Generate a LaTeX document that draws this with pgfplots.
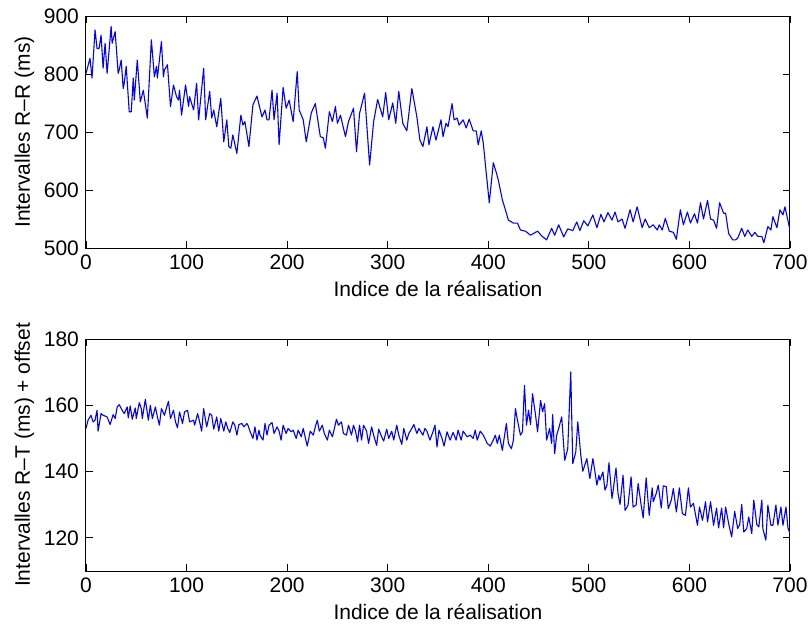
\documentclass[border=0pt]{standalone}
\usepackage{fontspec}
\setmainfont{Liberation Sans}
\usepackage{pgfplots}
\pgfplotsset{compat=1.18}

\pgfplotsset{
  matlab/.style={
    scale only axis,
    width=352pt, height=116pt,
    xmin=0, xmax=700,
    xtick={0,100,...,700},
    tick align=inside,
    tick pos=both,
    major tick length=3.5pt,
    axis line style={line width=0.5pt},
    every tick/.style={black, line width=0.4pt},
    font=\fontsize{10.5}{12.5}\selectfont,
    tick label style={font=\fontsize{10.5}{12.5}\selectfont},
    /pgf/number format/assume math mode=true,
    /pgf/number format/1000 sep={},
    xlabel={Indice de la réalisation},
    xlabel style={yshift=1.5pt},
    ylabel style={yshift=-2pt},
  }
}

\begin{document}
\begin{tikzpicture}
\path[use as bounding box] (-43pt,8pt) rectangle (361.5pt,-306pt);

\begin{axis}[matlab, at={(0,0)}, anchor=north west,
  ymin=500, ymax=900, ytick={500,600,...,900},
  ylabel={Intervalles R--R (ms)}]
\addplot[blue, line width=0.55pt, line join=round] coordinates {
(0,801) (4,827) (6,793) (9,876) (11,844) (13,844) (15,867) (17,810) (19,853) (21,801)
(25,882) (26,853) (29,873) (32,801) (33,807) (35,824) (37,775) (38,784) (40,813) (43,735)
(45,735) (47,793) (48,755) (51,824) (54,752) (57,772) (61,724) (65,859) (68,795) (70,813)
(71,793) (75,856) (77,795) (78,807) (81,816) (84,744) (87,781) (90,761) (92,755) (93,772)
(95,729) (99,781) (102,744) (103,761) (107,738) (110,784) (112,721) (117,810) (119,721) (123,770)
(125,724) (127,738) (130,709) (134,758) (137,683) (140,721) (142,675) (144,672) (146,695) (150,663)
(154,729) (156,712) (158,718) (162,675) (166,747) (170,762) (175,726) (178,738) (180,721) (182,721)
(185,772) (187,721) (190,767) (192,678) (196,777) (199,741) (202,755) (206,718) (210,804) (212,738)
(216,721) (219,683) (224,733) (228,749) (233,692) (236,690) (238,672) (242,735) (245,718) (248,744)
(250,715) (253,729) (258,692) (261,718) (266,741) (269,666) (272,732) (277,767) (282,643) (286,718)
(290,756) (295,726) (298,768) (301,721) (305,750) (308,715) (311,770) (315,715) (319,702) (324,775)
(329,726) (332,686) (335,675) (339,709) (341,678) (345,709) (348,686) (353,721) (355,692) (358,715)
(360,709) (364,749) (366,721) (369,724) (371,712) (375,721) (378,707) (381,722) (385,702) (388,702)
(390,678) (393,702) (395,681) (399,612) (401,578) (405,647) (408,630) (410,617) (414,583) (417,566)
(420,548) (425,543) (429,543) (432,531) (437,529) (442,522) (446,526) (449,529) (453,521) (458,514)
(463,534) (466,522) (470,540) (475,519) (479,533) (484,530) (488,545) (491,530) (495,547) (499,538)
(504,557) (508,535) (512,558) (515,545) (519,561) (523,548) (526,562) (529,545) (533,550) (536,534)
(541,566) (544,545) (548,571) (553,535) (556,550) (560,535) (564,540) (568,531) (570,540) (573,531)
(576,551) (580,529) (584,527) (587,515) (591,566) (594,540) (598,562) (601,543) (605,559) (608,543)
(611,578) (614,550) (618,582) (621,550) (624,548) (627,534) (630,578) (634,560) (636,560) (639,525)
(643,514) (646,514) (648,517) (652,534) (655,520) (658,531) (662,520) (665,527) (668,520) (672,520)
(674,509) (678,537) (681,531) (683,554) (687,535) (690,566) (693,557) (695,571) (700,531)
};
\end{axis}

\begin{axis}[matlab, at={(0,-161.5pt)}, anchor=north west,
  ymin=110, ymax=180, ytick={120,140,160,180},
  ylabel={Intervalles R--T (ms) + offset}]
\addplot[blue, line width=0.55pt, line join=round] coordinates {
(0,153.0) (2,155.5) (5,157.0) (7,155.0) (9,155.5) (11,158.5) (12,152.2) (15,157.5) (17,157.0) (21,156.5)
(24,154.2) (27,157.2) (29,156.0) (31,159.5) (33,160.2) (36,158.5) (38,157.5) (41,159.5) (42,156.2) (44,159.8)
(46,155.8) (49,159.2) (50,156.0) (53,160.8) (55,159.0) (56,156.0) (59,161.8) (62,155.5) (64,160.0) (66,156.0)
(69,159.5) (71,156.5) (73,154.0) (75,159.0) (78,157.0) (80,159.2) (82,161.2) (84,156.0) (87,158.5) (89,155.0)
(91,153.2) (93,158.0) (96,154.5) (98,158.0) (101,158.5) (103,155.0) (107,155.5) (108,154.0) (111,157.5) (113,155.0)
(115,152.2) (117,159.0) (120,153.5) (123,157.5) (125,157.0) (127,152.8) (130,156.5) (132,152.2) (134,156.0) (137,152.2)
(139,155.0) (141,153.0) (143,151.8) (146,155.0) (148,154.0) (150,151.0) (152,154.2) (155,154.5) (157,153.5) (160,154.5)
(161,154.0) (163,152.2) (166,150.0) (168,153.5) (170,149.5) (172,152.5) (173,151.0) (176,149.5) (178,154.5) (180,151.0)
(182,154.0) (185,154.8) (187,151.5) (190,153.5) (192,152.2) (194,149.5) (196,154.0) (199,151.5) (201,153.0) (204,152.0)
(206,152.5) (209,150.0) (211,152.5) (214,150.5) (216,153.0) (219,149.0) (220,147.7) (223,152.2) (226,151.0) (228,153.5)
(230,155.5) (232,152.2) (235,154.0) (237,151.5) (240,149.5) (242,152.5) (245,150.5) (247,153.0) (249,155.8) (251,154.0)
(254,155.0) (256,151.5) (259,151.0) (261,154.0) (264,151.0) (266,154.0) (268,152.2) (270,149.0) (272,154.0) (274,149.5)
(276,154.0) (279,152.2) (281,148.5) (284,153.5) (286,151.0) (289,147.9) (291,152.8) (294,150.5) (296,149.2) (299,152.8)
(301,150.0) (304,152.2) (306,149.5) (309,154.0) (311,151.0) (314,148.2) (316,153.0) (319,149.5) (321,151.5) (324,153.0)
(326,154.2) (329,151.5) (331,153.0) (335,151.0) (337,153.0) (339,152.2) (342,149.5) (345,152.0) (347,154.0) (349,147.4)
(351,152.5) (354,150.0) (356,147.7) (359,152.0) (362,149.5) (365,151.8) (368,149.5) (370,152.5) (373,149.5) (375,152.2)
(379,150.5) (382,151.0) (385,150.0) (387,152.5) (389,149.5) (392,152.2) (395,151.0) (399,148.5) (402,147.7) (405,149.5)
(407,151.0) (409,148.5) (411,151.0) (414,146.4) (415,148.5) (418,154.5) (420,148.5) (423,146.9) (425,149.5) (427,159.0)
(429,155.5) (432,151.0) (434,152.0) (436,166.0) (438,154.0) (440,158.5) (442,154.2) (444,163.5) (447,157.0) (449,152.0)
(452,161.5) (454,158.0) (456,160.5) (458,149.5) (461,153.0) (463,148.5) (464,157.2) (466,145.4) (468,151.0) (470,153.0)
(473,156.5) (476,143.4) (479,146.9) (482,170.1) (484,142.4) (487,145.9) (489,155.0) (492,144.9) (494,140.1) (498,143.9)
(501,137.9) (504,143.9) (506,140.1) (508,135.9) (510,138.9) (511,137.4) (514,139.9) (516,134.4) (518,135.9) (520,142.7)
(523,131.9) (524,133.9) (527,141.1) (529,133.4) (531,130.1) (534,138.9) (536,128.3) (539,129.9) (542,138.4) (544,129.3)
(547,129.9) (549,136.4) (552,129.9) (554,126.0) (557,138.1) (560,126.8) (563,135.1) (564,130.9) (567,133.4) (569,135.9)
(572,129.0) (574,135.7) (577,135.4) (579,128.8) (582,131.4) (584,134.9) (587,127.8) (590,135.1) (593,127.3) (596,126.8)
(599,135.1) (601,129.3) (604,130.4) (608,123.8) (610,129.3) (613,125.3) (616,130.9) (618,124.8) (621,130.9) (624,123.8)
(627,129.0) (629,123.0) (632,129.0) (634,123.0) (636,129.3) (639,124.3) (642,120.3) (645,128.0) (648,122.8) (650,124.0)
(652,130.1) (654,121.8) (657,122.8) (659,126.3) (662,121.3) (664,131.4) (667,124.0) (669,123.3) (672,131.4) (673,122.8)
(676,119.3) (678,129.9) (681,123.8) (683,123.8) (686,129.9) (688,123.8) (691,129.3) (693,123.8) (696,129.3) (698,123.0)
(700,121.3)
};
\end{axis}
\end{tikzpicture}
\end{document}
